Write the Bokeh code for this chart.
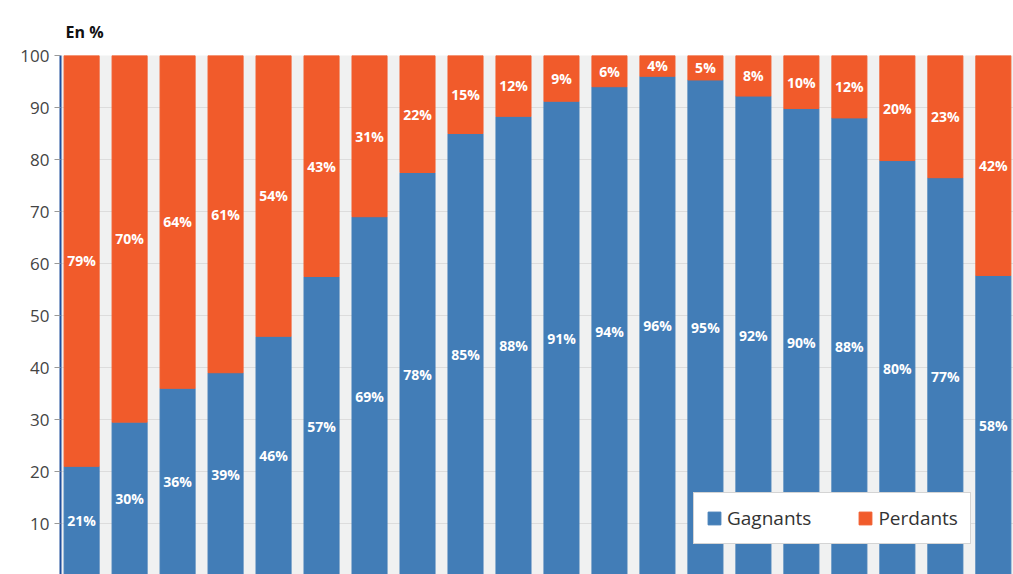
from bokeh.plotting import figure
from bokeh.models import ColumnDataSource, Legend, LegendItem, Range1d, FixedTicker
from bokeh.embed import file_html
from bokeh.resources import INLINE

gagnants = [21, 29.5, 36, 39, 46, 57.5, 69, 77.5, 85, 88.3, 91.2, 94, 96, 95.3, 92.2, 89.8, 88, 79.8, 76.5, 57.7]
perdants = [100 - g for g in gagnants]
lab_g = [21, 30, 36, 39, 46, 57, 69, 78, 85, 88, 91, 94, 96, 95, 92, 90, 88, 80, 77, 58]
lab_p = [79, 70, 64, 61, 54, 43, 31, 22, 15, 12, 9, 6, 4, 5, 8, 10, 12, 20, 23, 42]

x = list(range(len(gagnants)))
src = ColumnDataSource(dict(
    x=x, g=gagnants, p=perdants,
    gy=[g / 2 for g in gagnants],
    py=[g + p / 2 for g, p in zip(gagnants, perdants)],
    lg=[f"{v}%" for v in lab_g], lp=[f"{v}%" for v in lab_p],
))

p = figure(width=1013, height=574, output_backend="svg", toolbar_location=None,
           x_range=Range1d(-0.44, 19.42), y_range=Range1d(0.2, 100),
           min_border_left=60, min_border_top=55, min_border_bottom=0, min_border_right=0)
p.background_fill_color = "#f0f1f1"
p.outline_line_color = None
p.xaxis.visible = False
p.xgrid.grid_line_color = None
p.ygrid.grid_line_color = "#dcdcdc"
p.yaxis.ticker = FixedTicker(ticks=list(range(0, 101, 10)))
p.yaxis.axis_line_color = "#1f4e9c"
p.yaxis.axis_line_width = 2
p.yaxis.major_tick_line_color = "#999999"
p.yaxis.major_tick_in = 0
p.yaxis.major_tick_out = 6
p.yaxis.minor_tick_line_color = None
p.yaxis.major_label_text_font = "Open Sans"
p.yaxis.major_label_text_font_size = "17px"
p.yaxis.major_label_text_color = "#444444"
p.title.text = "En %"
p.title.text_font = "Open Sans"
p.title.text_font_size = "16px"
p.title.text_color = "#111111"
p.title.offset = 5
p.title.standoff = 26

rg = p.vbar(x="x", bottom=0, top="g", width=0.73, source=src, color="#427db7")
rp = p.vbar(x="x", bottom="g", top=100, width=0.73, source=src, color="#f15b2b")
for col, ycol in (("lg", "gy"), ("lp", "py")):
    p.text(x="x", y=ycol, text=col, source=src, text_color="white", text_font_style="bold",
           text_font_size="14px", text_align="center", text_baseline="middle",
           text_font={"value": "Open Sans"})

legend = Legend(items=[LegendItem(label="Gagnants", renderers=[rg]),
                       LegendItem(label="Perdants", renderers=[rp])],
                orientation="horizontal", location=(633, 30),
                label_text_font="Open Sans", label_text_font_size="19px",
                label_text_color="#333333", glyph_width=16, glyph_height=16,
                spacing=46, padding=12, margin=0, border_line_color="#aaaaaa",
                background_fill_color="white", background_fill_alpha=1)
p.add_layout(legend, "center")

open("out.html", "w").write(file_html(p, INLINE))
